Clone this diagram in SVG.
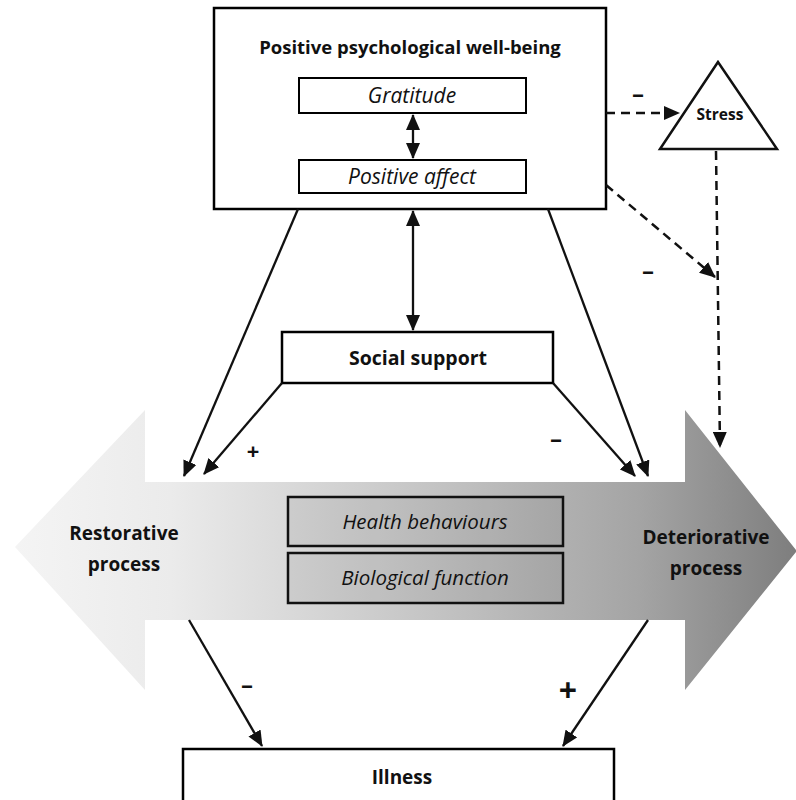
<svg xmlns="http://www.w3.org/2000/svg" width="796" height="800" viewBox="0 0 796 800">
<style>
.box{fill:#fff;stroke:#000;stroke-width:2.5}
.ibox{fill:#fff;stroke:#000;stroke-width:2}
.t{font-family:"Open Sans","Liberation Sans",sans-serif;fill:#111;text-anchor:middle}
.b{font-weight:bold}
.i{font-style:italic}
.ln{stroke:#111;stroke-width:2.3;fill:none}
.dash{stroke:#111;stroke-width:2.5;fill:none;stroke-dasharray:9 6}
.sign{font-family:"Open Sans","Liberation Sans",sans-serif;fill:#111;font-weight:bold;text-anchor:middle}
</style>
<defs>
<marker id="ahs" markerWidth="16" markerHeight="14" refX="15" refY="7" orient="auto-start-reverse" markerUnits="userSpaceOnUse" viewBox="0 0 16 14">
<path d="M0,0 L16,7 L0,14 Z" fill="#111"/>
</marker>
<linearGradient id="grad" x1="0" y1="0" x2="1" y2="0">
<stop offset="0" stop-color="#f4f4f4"/>
<stop offset="0.2" stop-color="#ebebeb"/>
<stop offset="0.5" stop-color="#c8c8c8"/>
<stop offset="0.8" stop-color="#a4a4a4"/>
<stop offset="1" stop-color="#7e7e7e"/>
</linearGradient>
</defs>

<g id="process-arrow">
<polygon points="15,547 145,410 145,482 685,482 685,410 796,550 796,552 685,690 685,620 145,620 145,690" fill="url(#grad)"/>
<text class="t b" x="124" y="540" font-size="19">Restorative</text>
<text class="t b" x="124" y="571" font-size="19">process</text>
<text class="t b" x="706" y="544" font-size="19">Deteriorative</text>
<text class="t b" x="706" y="575" font-size="19">process</text>
</g>

<g id="health-behaviours">
<rect x="288" y="497" width="275" height="49" fill="#000" fill-opacity="0.06" stroke="#111" stroke-width="2.5"/>
<text class="t i" x="425" y="529" font-size="20.5">Health behaviours</text>
</g>
<g id="biological-function">
<rect x="288" y="553" width="275" height="50" fill="#000" fill-opacity="0.06" stroke="#111" stroke-width="2.5"/>
<text class="t i" x="425" y="585" font-size="20.5">Biological function</text>
</g>

<g id="well-being">
<rect class="box" x="214" y="8" width="392" height="201"/>
<text class="t b" x="410" y="54" font-size="18.5">Positive psychological well-being</text>
</g>
<g id="gratitude">
<rect class="ibox" x="299" y="78" width="227" height="35"/>
<text class="t i" x="412" y="103" font-size="21">Gratitude</text>
</g>
<g id="positive-affect">
<rect class="ibox" x="299" y="160" width="227" height="33"/>
<text class="t i" x="412" y="184" font-size="21">Positive affect</text>
</g>

<g id="stress">
<polygon points="718,62 660,149 777,149" fill="#fff" stroke="#111" stroke-width="2.5" stroke-linejoin="miter"/>
<text class="t b" x="720" y="120" font-size="15.5">Stress</text>
</g>

<g id="social-support">
<rect class="box" x="282" y="332" width="271" height="51"/>
<text class="t b" x="418" y="365" font-size="19.5">Social support</text>
</g>

<g id="illness">
<rect class="box" x="183" y="749" width="431" height="55"/>
<text class="t b" x="402" y="784" font-size="19">Illness</text>
</g>

<g id="connectors">
<line class="ln" x1="413" y1="115" x2="413" y2="158" marker-start="url(#ahs)" marker-end="url(#ahs)"/>
<line class="ln" x1="413" y1="211" x2="413" y2="330" marker-start="url(#ahs)" marker-end="url(#ahs)"/>
<line class="ln" x1="298" y1="209" x2="184" y2="476" marker-end="url(#ahs)"/>
<line class="ln" x1="282" y1="383" x2="204" y2="474" marker-end="url(#ahs)"/>
<line class="ln" x1="548" y1="209" x2="648" y2="476" marker-end="url(#ahs)"/>
<line class="ln" x1="553" y1="383" x2="635" y2="476" marker-end="url(#ahs)"/>
<line class="ln" x1="189" y1="620" x2="262" y2="746" marker-end="url(#ahs)"/>
<line class="ln" x1="648" y1="620" x2="563" y2="746" marker-end="url(#ahs)"/>
<line class="dash" x1="606" y1="113" x2="679" y2="113" marker-end="url(#ahs)"/>
<line class="dash" x1="606" y1="185" x2="715" y2="277" marker-end="url(#ahs)"/>
<line class="dash" x1="716" y1="151" x2="720" y2="447" marker-end="url(#ahs)"/>
</g>

<g id="labels">
<text class="sign" x="638" y="102" font-size="24">–</text>
<text class="sign" x="648" y="279" font-size="24">–</text>
<text class="sign" x="253" y="459" font-size="22">+</text>
<text class="sign" x="556" y="447" font-size="24">–</text>
<text class="sign" x="247" y="693" font-size="24">–</text>
<text class="sign" x="568" y="702" font-size="32">+</text>
</g>
</svg>
